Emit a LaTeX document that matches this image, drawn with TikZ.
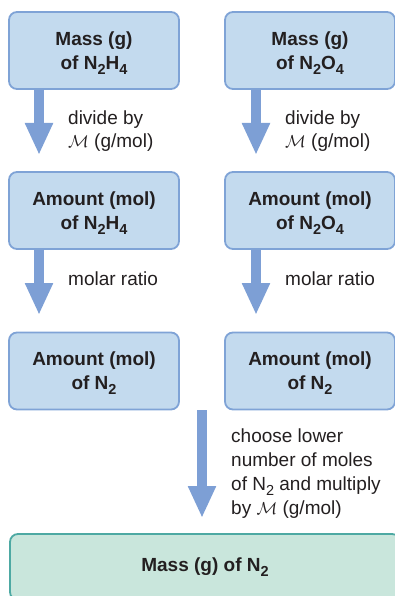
\documentclass[tikz,border=0pt]{standalone}
\usepackage{fontspec}
\setmainfont{Liberation Sans}
\usetikzlibrary{arrows.meta}

\definecolor{boxfill}{HTML}{C3DAEE}
\definecolor{boxline}{HTML}{7FA3D6}
\definecolor{arrowcol}{HTML}{7D9FD5}
\definecolor{endfill}{HTML}{C9E6DC}
\definecolor{endline}{HTML}{4DA9A3}
\definecolor{inkcol}{HTML}{231F20}

\tikzset{
  qbox/.style={draw=boxline, fill=boxfill, line width=1.8pt, rounded corners=8pt,
               minimum width=170pt, minimum height=77pt, inner sep=0, align=center,
               font=\fontsize{19}{24}\selectfont\bfseries, text=inkcol},
  endbox/.style={qbox, draw=endline, fill=endfill, minimum width=390pt, minimum height=66pt},
  step arrow/.style={line width=10pt, arrowcol, -{Triangle[length=32pt,width=26pt]}},
  note/.style={anchor=west, align=left, inner sep=0,
               font=\fontsize{19}{23}\selectfont, text=inkcol},
}
\newcommand{\molM}{$\mathcal{M}$}
\newcommand{\sub}[1]{\raisebox{-0.26em}[0pt][0pt]{\fontsize{14.5}{14.5}\selectfont #1}}

\begin{document}
\begin{tikzpicture}[x=1pt, y=-1pt]
    \useasboundingbox (0,0) rectangle (395,596);
    \clip (0,0) rectangle (395,596);
    % Layout: two columns (N2H4 left, N2O4 right), three rows of boxes,
    %         then one wide box at the bottom for the product.

    % --- row 1: mass ---
    \node[qbox] (massH) at (94,50.5) {Mass (g)\\of N\sub{2}H\sub{4}};
    \node[qbox] (massO) at (310,50.5) {Mass (g)\\of N\sub{2}O\sub{4}};

    % --- row 2: amount ---
    \node[qbox] (molH) at (94,210.5) {Amount (mol)\\of N\sub{2}H\sub{4}};
    \node[qbox] (molO) at (310,210.5) {Amount (mol)\\of N\sub{2}O\sub{4}};

    % --- row 3: amount of N2 ---
    \node[qbox] (nitroH) at (94,371) {Amount (mol)\\of N\sub{2}};
    \node[qbox] (nitroO) at (310,371) {Amount (mol)\\of N\sub{2}};

    % --- product ---
    \node[endbox] (massN) at (205,567) {Mass (g) of N\sub{2}};

    % --- arrows: tips are fixed, tails start at the box above ---
    \coordinate (tipH1) at (39,155);
    \coordinate (tipO1) at (256,155);
    \coordinate (tipH2) at (39,315);
    \coordinate (tipO2) at (256,315);
    \coordinate (tipN) at (202,518);
    \draw[step arrow] (massH.south -| tipH1) -- (tipH1);
    \draw[step arrow] (massO.south -| tipO1) -- (tipO1);
    \draw[step arrow] (molH.south -| tipH2) -- (tipH2);
    \draw[step arrow] (molO.south -| tipO2) -- (tipO2);
    \draw[step arrow] (nitroO.south -| tipN) -- (tipN);

    % --- step labels ---
    \node[note] (divH) at (68,131.5) {divide by\\\molM{} (g/mol)};
    \node[note] (divO) at (285,131.5) {divide by\\\molM{} (g/mol)};
    \node[note] (ratioH) at (68,279) {molar ratio};
    \node[note] (ratioO) at (285,279) {molar ratio};
    \node[note, font=\fontsize{19}{24}\selectfont] (chooseN) at (231,473.5)
      {choose lower\\number of moles\\of N\sub{2} and multiply\\by \molM{} (g/mol)};
\end{tikzpicture}
\end{document}
